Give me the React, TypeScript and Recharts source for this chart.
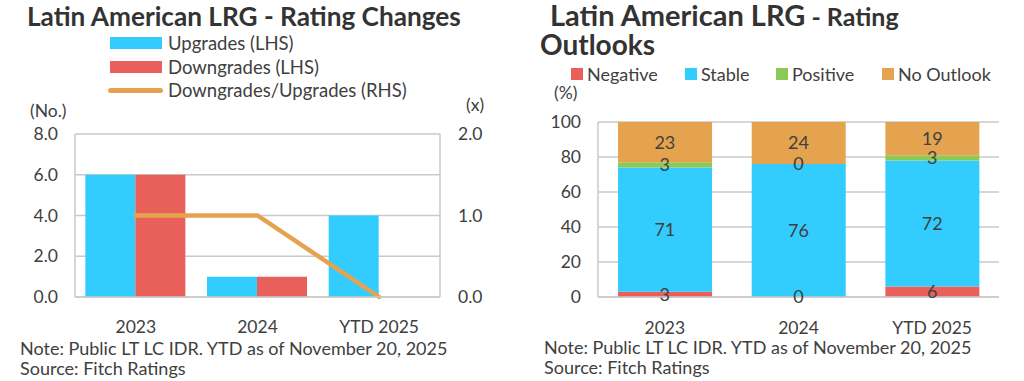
import React from "react";
import {
  ComposedChart,
  Bar,
  Line,
  XAxis,
  YAxis,
  CartesianGrid,
  LabelList,
} from "recharts";

// shared categories
const categories = ["2023", "2024", "YTD 2025"];

// left chart: rating changes
const upgrades = [6, 1, 4];
const downgrades = [6, 1, 0];
const downUpRatio = [1, 1, 0];
const lhsTicks = [0, 2, 4, 6, 8];
const rhsTicks = [0, 1, 2];

// right chart: rating outlooks (%)
const negative = [3, 0, 6];
const stable = [71, 76, 72];
const positive = [3, 0, 3];
const noOutlook = [23, 24, 19];
const pctTicks = [0, 20, 40, 60, 80, 100];

const BLUE = "#33CCFF";
const RED = "#E9605A";
const ORANGE = "#E5A34F";
const GREEN = "#8CC957";
const GRID = "#CACACA";
const TEXT = "#404040";
const TITLE = "#333333";
const FONT = "Lato, 'Open Sans', sans-serif";

const changesData = categories.map((name, i) => ({
  name,
  up: upgrades[i],
  down: downgrades[i],
  ratio: downUpRatio[i],
}));

const outlookData = categories.map((name, i) => ({
  name,
  neg: negative[i],
  stable: stable[i],
  pos: positive[i],
  none: noOutlook[i],
}));

const outlookSeries = [
  { key: "neg", name: "Negative", color: RED },
  { key: "stable", name: "Stable", color: BLUE },
  { key: "pos", name: "Positive", color: GREEN },
  { key: "none", name: "No Outlook", color: ORANGE },
];

// middle of segment k in the stack (so zero-height segments still get a label)
const segMid = (k: number) => (d: any) => {
  let below = 0;
  for (let j = 0; j < k; j++) below += d[outlookSeries[j].key];
  return below + d[outlookSeries[k].key] / 2;
};

// place text by its baseline (Lato, line-height 1em -> baseline ~0.887em below top)
function Txt({
  x,
  base,
  size,
  weight = 400,
  color = TEXT,
  children,
}: {
  x: number;
  base: number;
  size: number;
  weight?: number;
  color?: string;
  children: React.ReactNode;
}) {
  return (
    <div
      style={{
        position: "absolute",
        left: x,
        top: base - 0.887 * size,
        fontSize: size,
        lineHeight: `${size}px`,
        fontWeight: weight,
        color,
        whiteSpace: "nowrap",
      }}
    >
      {children}
    </div>
  );
}

const tickStyle = { fill: TEXT, fontSize: 17.5, fontFamily: FONT };
const axisLine = { stroke: GRID, strokeWidth: 1.5 };

function ChangesChart() {
  return (
    <ComposedChart
      width={512}
      height={381}
      data={changesData}
      margin={{ top: 134, right: 12, bottom: 54, left: 0 }}
      barGap={0}
      barCategoryGap="8.5%"
    >
      <CartesianGrid yAxisId="l" vertical={false} stroke={GRID} strokeWidth={1.5} />
      <XAxis
        dataKey="name"
        tickLine={false}
        axisLine={axisLine}
        tick={tickStyle}
        tickMargin={18}
        height={30}
      />
      <YAxis
        yAxisId="l"
        domain={[0, 8]}
        ticks={lhsTicks}
        tickFormatter={(v: number) => v.toFixed(1)}
        width={75}
        tickLine={false}
        tickSize={0}
        tickMargin={17}
        axisLine={axisLine}
        tick={tickStyle}
      />
      <YAxis
        yAxisId="r"
        orientation="right"
        domain={[0, 2]}
        ticks={rhsTicks}
        tickFormatter={(v: number) => v.toFixed(1)}
        width={60}
        tickLine={false}
        tickSize={0}
        tickMargin={18}
        axisLine={axisLine}
        tick={{ ...tickStyle, textAnchor: "start" }}
      />
      <Bar yAxisId="l" dataKey="up" fill={BLUE} isAnimationActive={false} />
      <Bar yAxisId="l" dataKey="down" fill={RED} isAnimationActive={false} />
      <Line
        yAxisId="r"
        type="linear"
        dataKey="ratio"
        stroke={ORANGE}
        strokeWidth={4.5}
        strokeLinecap="round"
        dot={false}
        isAnimationActive={false}
      />
    </ComposedChart>
  );
}

function OutlookChart() {
  return (
    <ComposedChart
      width={512}
      height={381}
      data={outlookData}
      margin={{ top: 122, right: 25, bottom: 54, left: 0 }}
      barCategoryGap="15%"
    >
      <CartesianGrid vertical={false} stroke={GRID} strokeWidth={1.5} />
      <XAxis
        dataKey="name"
        tickLine={false}
        axisLine={axisLine}
        tick={tickStyle}
        tickMargin={19}
        height={30}
      />
      <YAxis
        domain={[0, 100]}
        ticks={pctTicks}
        width={86}
        tickLine={false}
        tickSize={0}
        tickMargin={17}
        axisLine={axisLine}
        tick={tickStyle}
      />
      {outlookSeries.map((s) => (
        <Bar
          key={s.key}
          dataKey={s.key}
          stackId="a"
          fill={s.color}
          isAnimationActive={false}
        />
      ))}
      {/* value labels, drawn on an invisible line through each segment's middle */}
      {outlookSeries.map((s, k) => (
        <Line
          key={`lbl-${s.key}`}
          dataKey={segMid(k)}
          stroke="none"
          dot={false}
          activeDot={false}
          legendType="none"
          isAnimationActive={false}
        >
          <LabelList
            dataKey={s.key}
            position="center"
            fill={TEXT}
            fontSize={18}
            fontFamily={FONT}
          />
        </Line>
      ))}
    </ComposedChart>
  );
}

export default function App() {
  return (
    <div
      style={{
        position: "absolute",
        left: 0,
        top: 0,
        width: 1024,
        height: 381,
        background: "#fff",
        fontFamily: FONT,
        overflow: "hidden",
      }}
    >
      {/* left panel */}
      <div style={{ position: "absolute", left: 0, top: 0 }}>
        <ChangesChart />
      </div>
      <Txt x={27} base={26} size={26.2} weight={700} color={TITLE}>
        Latin American LRG - Rating Changes
      </Txt>
      <div style={{ position: "absolute", left: 110, top: 37, width: 52, height: 12, background: BLUE }} />
      <Txt x={168} base={50} size={18.5}>Upgrades (LHS)</Txt>
      <div style={{ position: "absolute", left: 110, top: 61, width: 52, height: 12, background: RED }} />
      <Txt x={168} base={74} size={18.5}>Downgrades (LHS)</Txt>
      <div style={{ position: "absolute", left: 108, top: 88, width: 55, height: 5, borderRadius: 3, background: ORANGE }} />
      <Txt x={168} base={97} size={18.5}>Downgrades/Upgrades (RHS)</Txt>
      <Txt x={30} base={118} size={17.5}>(No.)</Txt>
      <Txt x={466} base={112} size={17.5}>(x)</Txt>
      <Txt x={20} base={355} size={18}>Note: Public LT LC IDR. YTD as of November 20, 2025</Txt>
      <Txt x={20} base={375} size={18}>Source: Fitch Ratings</Txt>

      {/* right panel */}
      <div style={{ position: "absolute", left: 512, top: 0 }}>
        <OutlookChart />
      </div>
      <Txt x={550} base={26} size={29} weight={700} color={TITLE}>
        Latin American LRG<span style={{ fontSize: 25 }}> - Rating</span>
      </Txt>
      <Txt x={540} base={55} size={28} weight={700} color={TITLE}>
        Outlooks
      </Txt>
      {outlookSeries.map((s, i) => {
        const sq = [571, 685, 776, 882][i];
        return (
          <React.Fragment key={s.key}>
            <div style={{ position: "absolute", left: sq, top: 68, width: 12, height: 12, background: s.color }} />
            <Txt x={sq + 16} base={81} size={18}>{s.name}</Txt>
          </React.Fragment>
        );
      })}
      <Txt x={554} base={100} size={17.5}>(%)</Txt>
      <Txt x={544} base={354} size={18}>Note: Public LT LC IDR. YTD as of November 20, 2025</Txt>
      <Txt x={544} base={374} size={18}>Source: Fitch Ratings</Txt>
    </div>
  );
}
